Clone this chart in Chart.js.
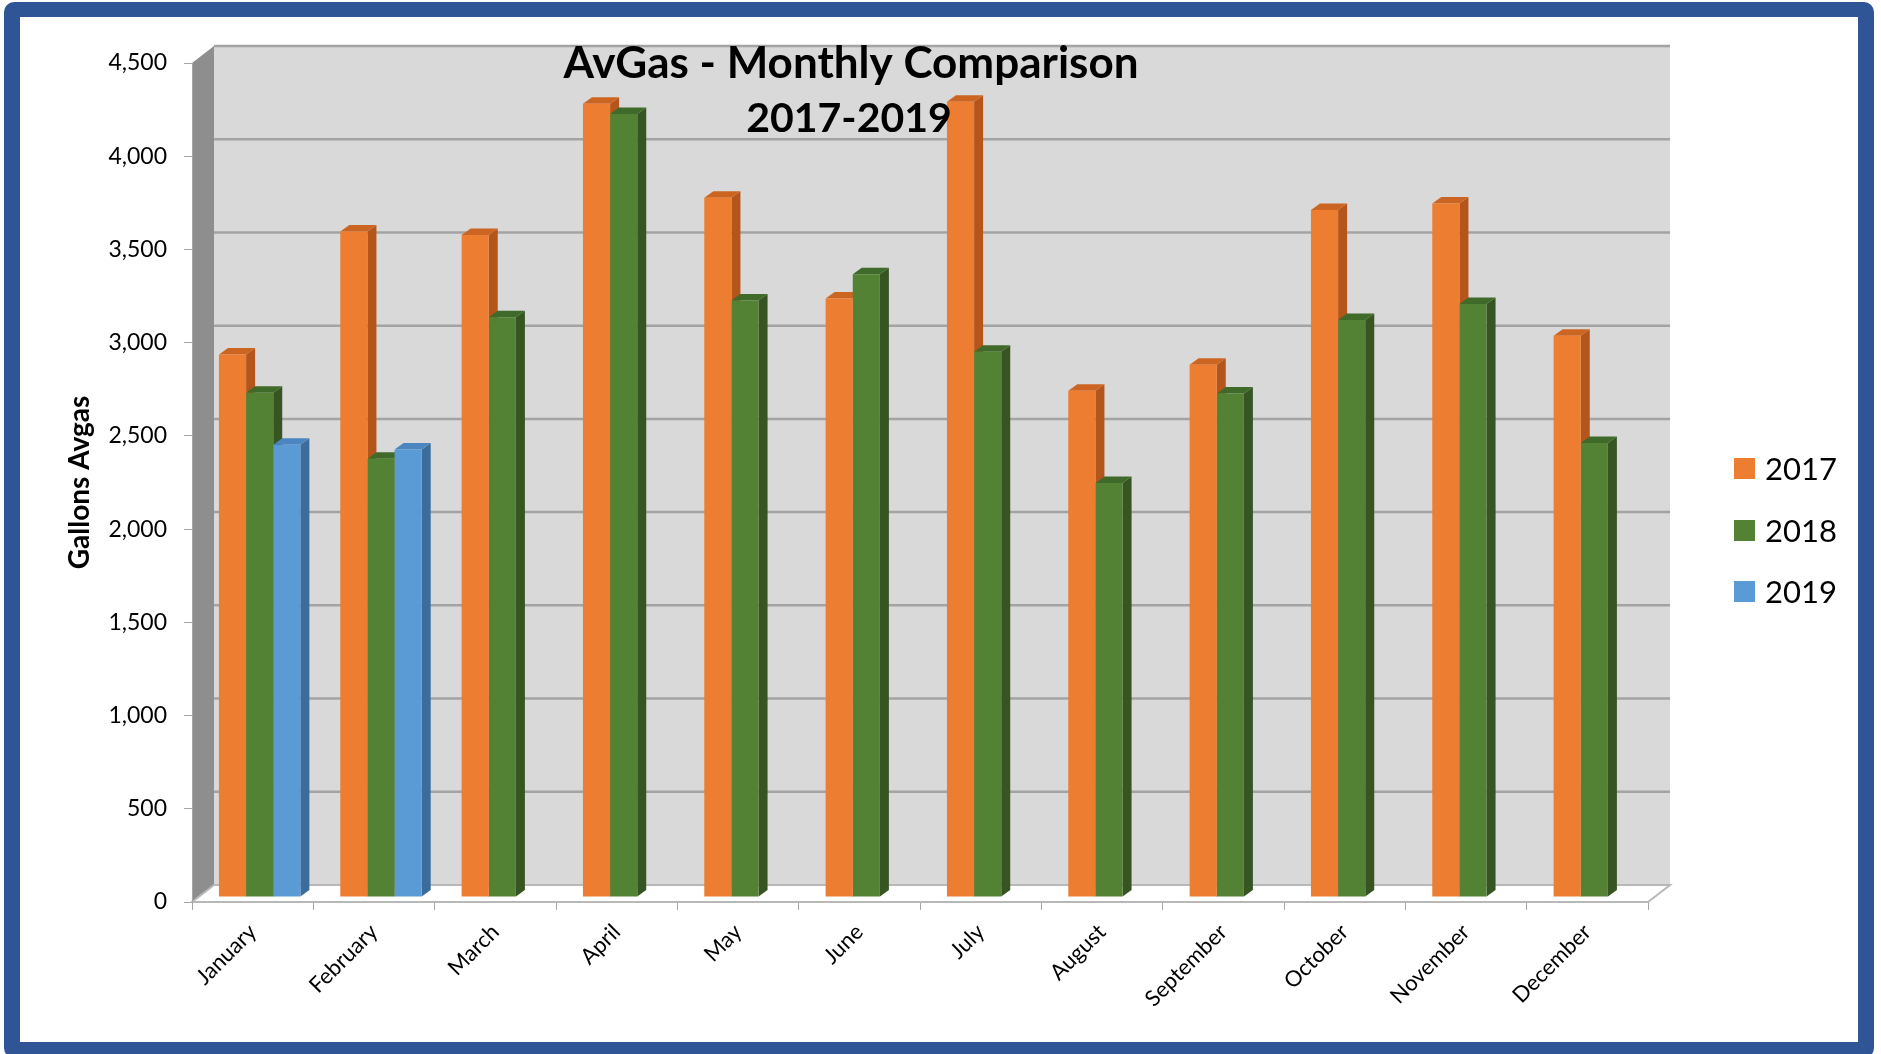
<!DOCTYPE html>
<html>
<head>
<meta charset="utf-8">
<script src="https://cdn.jsdelivr.net/npm/chart.js@4.4.0/dist/chart.umd.min.js"></script>
<style>
    html, body { margin: 0; padding: 0; background: #fff; }
    #wrap { position: relative; width: 1881px; height: 1054px; overflow: hidden; }
    #frame { position: absolute; left: 4px; top: 2px; width: 1870px; height: 1056px; box-sizing: border-box;
             border: 16px solid #2F5597; border-top-width: 15px; border-radius: 10px; pointer-events: none; }
    #legend { position: absolute; left: 1734px; top: 0; font-family: Lato, sans-serif; font-size: 31px; color: #000; }
    .item { position: absolute; left: 0; display: flex; align-items: center; white-space: nowrap; height: 40px; }
    .box { width: 21px; height: 21px; margin-right: 10px; }
</style>
</head>
<body>
<div id="wrap">
    <canvas id="avgas_graph" width="1881" height="1054"></canvas>
    <div id="legend"></div>
    <div id="frame"></div>
</div>
<script>
// Chart values
var months = ['January', 'February', 'March', 'April', 'May', 'June', 'July', 'August', 'September', 'October', 'November', 'December'];
var gallons2017 = [2910, 3570, 3550, 4255, 3750, 3210, 4265, 2715, 2855, 3685, 3720, 3010];
var gallons2018 = [2705, 2350, 3110, 4200, 3200, 3340, 2925, 2220, 2700, 3095, 3180, 2435];
var gallons2019 = [2425, 2400, null, null, null, null, null, null, null, null, null, null];
var seriesLabels = ['2017', '2018', '2019'];
var titleLines = ['AvGas - Monthly Comparison', '2017-2019'];
var yAxisTitle = 'Gallons Avgas';
var yMax = 4500;
var yStep = 500;

// Colors: front face, side face, top face
var frontColors = ['#ED7D31', '#548235', '#5B9BD5'];
var sideColors = ['#B4561B', '#365522', '#3A6D9C'];
var topColors = ['#CC6522', '#3F6A29', '#4B86C0'];

var fontFamily = 'Lato, "Noto Sans", sans-serif';

// 3D look: wall depth and bar depth
var wallDX = 22, wallDY = -17;
var barShiftX = 7, barShiftY = -5;
var barDX = 9, barDY = -6.5;

var threeD = {
    id: 'threeD',
    beforeDraw: function (chart) {
        var ctx = chart.ctx;
        var a = chart.chartArea;
        var y = chart.scales.y;
        ctx.save();
        // side wall
        ctx.fillStyle = '#8E8E8E';
        ctx.beginPath();
        ctx.moveTo(a.left, a.top);
        ctx.lineTo(a.left + wallDX, a.top + wallDY);
        ctx.lineTo(a.left + wallDX, a.bottom + wallDY);
        ctx.lineTo(a.left, a.bottom);
        ctx.closePath();
        ctx.fill();
        // back wall
        ctx.fillStyle = '#D9D9D9';
        ctx.fillRect(a.left + wallDX, a.top + wallDY, a.right - a.left, a.bottom - a.top);
        // grid lines on the back wall
        ctx.strokeStyle = '#A3A3A3';
        ctx.lineWidth = 2.5;
        for (var v = yStep; v <= yMax; v += yStep) {
            var py = y.getPixelForValue(v) + wallDY;
            ctx.beginPath();
            ctx.moveTo(a.left + wallDX, py);
            ctx.lineTo(a.right + wallDX, py);
            ctx.stroke();
        }
        // floor
        ctx.fillStyle = '#FFFFFF';
        ctx.strokeStyle = '#B8B8B8';
        ctx.lineWidth = 2;
        ctx.beginPath();
        ctx.moveTo(a.left, a.bottom);
        ctx.lineTo(a.right, a.bottom);
        ctx.lineTo(a.right + wallDX, a.bottom + wallDY);
        ctx.lineTo(a.left + wallDX, a.bottom + wallDY);
        ctx.closePath();
        ctx.fill();
        ctx.stroke();
        ctx.restore();
    },
    beforeDatasetsDraw: function (chart) {
        var ctx = chart.ctx;
        ctx.save();
        ctx.translate(barShiftX, barShiftY);
        // side and top faces first, the front faces drawn by Chart.js cover them
        chart.data.datasets.forEach(function (ds, di) {
            var meta = chart.getDatasetMeta(di);
            meta.data.forEach(function (bar, i) {
                if (ds.data[i] == null) return;
                var p = bar.getProps(['x', 'y', 'base', 'width'], true);
                var l = p.x - p.width / 2, r = p.x + p.width / 2;
                ctx.fillStyle = sideColors[di];
                ctx.beginPath();
                ctx.moveTo(r, p.y);
                ctx.lineTo(r + barDX, p.y + barDY);
                ctx.lineTo(r + barDX, p.base + barDY);
                ctx.lineTo(r, p.base);
                ctx.closePath();
                ctx.fill();
                ctx.fillStyle = topColors[di];
                ctx.beginPath();
                ctx.moveTo(l, p.y);
                ctx.lineTo(l + barDX, p.y + barDY);
                ctx.lineTo(r + barDX, p.y + barDY);
                ctx.lineTo(r, p.y);
                ctx.closePath();
                ctx.fill();
            });
        });
    },
    afterDatasetsDraw: function (chart) {
        chart.ctx.restore();
    },
    afterDraw: function (chart) {
        var ctx = chart.ctx;
        ctx.save();
        ctx.fillStyle = '#000';
        ctx.textAlign = 'center';
        ctx.textBaseline = 'middle';
        ctx.font = 'bold 44px ' + fontFamily;
        ctx.fillText(titleLines[0], 851, 64);
        ctx.font = 'bold 41px ' + fontFamily;
        ctx.fillText(titleLines[1], 849, 119);
        ctx.restore();
    }
};

var canvas = document.getElementById('avgas_graph').getContext('2d');

var avgas_graph = new Chart(canvas, {
    type: 'bar',
    data: {
        labels: months,
        datasets: [{
            label: seriesLabels[0],
            data: gallons2017,
            backgroundColor: frontColors[0]
        },
        {
            label: seriesLabels[1],
            data: gallons2018,
            backgroundColor: frontColors[1]
        },
        {
            label: seriesLabels[2],
            data: gallons2019,
            backgroundColor: frontColors[2]
        }]
    },
    options: {
        responsive: false,
        animation: false,
        categoryPercentage: 0.671,
        barPercentage: 1.0,
        clip: false,
        layout: {
            padding: { left: 20, top: 63, right: 233, bottom: 22 }
        },
        plugins: {
            legend: { display: false },
            title: { display: false },
            tooltip: { enabled: false }
        },
        scales: {
            x: {
                afterFit: function (scale) { scale.height = 130; },
                grid: { offset: true, drawOnChartArea: false, tickLength: 8, color: '#A6A6A6' },
                border: { display: true, color: '#B8B8B8', width: 2 },
                ticks: {
                    minRotation: 45,
                    maxRotation: 45,
                    padding: 9,
                    color: '#000',
                    font: { family: fontFamily, size: 22 }
                }
            },
            y: {
                min: 0,
                max: yMax,
                afterFit: function (scale) { scale.width = 172; },
                grid: { drawOnChartArea: false, tickLength: 8, color: '#A6A6A6' },
                border: { display: true, color: '#A6A6A6', width: 1 },
                ticks: {
                    stepSize: yStep,
                    padding: 17,
                    color: '#000',
                    font: { family: fontFamily, size: 23 }
                },
                title: {
                    display: true,
                    text: yAxisTitle,
                    color: '#000',
                    padding: { top: 43, bottom: 0 },
                    font: { family: fontFamily, size: 28, weight: 'bold' }
                }
            }
        }
    },
    plugins: [threeD]
});

// Legend built from the chart datasets
var legendDiv = document.getElementById('legend');
var legendTops = [448, 510, 571];
avgas_graph.data.datasets.forEach(function (ds, i) {
    var item = document.createElement('div');
    item.className = 'item';
    item.style.top = legendTops[i] + 'px';
    item.innerHTML = '<span class="box" style="background:' + ds.backgroundColor + '"></span><span>' + ds.label + '</span>';
    legendDiv.appendChild(item);
});
</script>
</body>
</html>
